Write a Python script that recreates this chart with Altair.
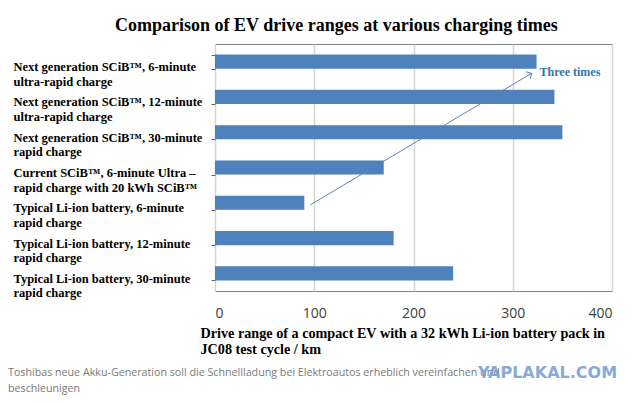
import altair as alt
import pandas as pd

# ---- data ----
labels = [
    "Next generation SCiB™, 6-minute|ultra-rapid charge",
    "Next generation SCiB™, 12-minute|ultra-rapid charge",
    "Next generation SCiB™, 30-minute|rapid charge",
    "Current SCiB™, 6-minute Ultra –|rapid charge with 20 kWh SCiB™",
    "Typical Li-ion battery, 6-minute|rapid charge",
    "Typical Li-ion battery, 12-minute|rapid charge",
    "Typical Li-ion battery, 30-minute|rapid charge",
]
ranges = [324, 342, 350, 170, 90, 180, 240]
x_ticks = [0, 100, 200, 300, 400]

# annotation arrow (x in km, y in band units counted from the top)
arrow_x = [96, 319]
arrow_y = [4.56, 0.83]
note_text = ["Three times"]
note_x = [327]
note_y = [0.8]

title_text = "Comparison of EV drive ranges at various charging times"
x_title = ["Drive range of a compact EV with a 32 kWh Li-ion battery pack in",
           "JC08 test cycle / km"]
caption = ("Toshibas neue Akku-Generation soll die Schnellladung bei Elektroautos "
           "erheblich vereinfachen und\nbeschleunigen")
watermark = "YAPLAKAL.COM"

df = pd.DataFrame({"label": labels, "range": ranges})
arrow_df = pd.DataFrame({"x": [arrow_x[0]], "x2": [arrow_x[1]],
                         "y": [arrow_y[0]], "y2": [arrow_y[1]]})
note_df = pd.DataFrame({"x": note_x, "y": note_y, "t": note_text})
cap_df = pd.DataFrame({"t": [caption]})
wm_df = pd.DataFrame({"t": [watermark]})

xscale = alt.Scale(domain=[0, 400], nice=False)
yq_scale = alt.Scale(domain=[0, 7], reverse=True, nice=False, zero=False)

bars = alt.Chart(df).mark_bar(color="#4f81bd").encode(
    x=alt.X("range:Q", scale=xscale,
            axis=alt.Axis(values=x_ticks, grid=True, gridColor="#d4d4d4", gridWidth=1.5,
                          ticks=False, tickSize=0, domain=False,
                          labelFont="Open Sans", labelFontSize=14, labelColor="#404040",
                          labelPadding=15, labelBaseline="top",
                          title=x_title, titleFont="Liberation Serif", titleFontWeight="bold",
                          titleFontSize=14.2, titleColor="black", titleAnchor="start",
                          titleAlign="left", titleBaseline="top", titleX=-15, titleY=35,
                          titleLineHeight=16)),
    y=alt.Y("label:N", sort=None,
            scale=alt.Scale(paddingInner=0.6, paddingOuter=0.3),
            axis=alt.Axis(title=None, labelExpr="split(datum.label, '|')",
                          labelAlign="left", labelBaseline="middle", labelPadding=198,
                          tickSize=4, tickBand="extent", tickColor="#666666",
                          domain=False, labelFont="Liberation Serif",
                          labelFontWeight="bold", labelFontSize=12.5,
                          labelLineHeight=14.5, labelColor="black", labelOffset=5,
                          labelLimit=400)),
)

arrow = alt.Chart(arrow_df).mark_rule(color="#5b84b6", strokeWidth=1).encode(
    x=alt.X("x:Q", scale=xscale, title=x_title),
    x2="x2:Q",
    y=alt.Y("y:Q", scale=yq_scale, axis=None),
    y2="y2:Q",
)

head = alt.Chart(arrow_df).mark_point(
    shape="M-1,1L0,0L1,1", filled=False, angle=59, size=70,
    color="#5b84b6", strokeWidth=1, opacity=1,
).encode(
    x=alt.X("x2:Q", scale=xscale, title=x_title),
    y=alt.Y("y2:Q", scale=yq_scale, axis=None),
)

note = alt.Chart(note_df).mark_text(
    align="left", baseline="middle", font="Liberation Serif", fontWeight="bold",
    fontSize=12, color="#2e75b6",
).encode(
    x=alt.X("x:Q", scale=xscale, title=x_title),
    y=alt.Y("y:Q", scale=yq_scale, axis=None),
    text="t:N",
)

cap = alt.Chart(cap_df).mark_text(
    align="left", baseline="middle", font="Open Sans", fontSize=10.7,
    color="#7a7a7a", lineBreak="\n", lineHeight=16,
).encode(x=alt.value(-207), y=alt.value(329), text="t:N")

wm = alt.Chart(wm_df).mark_text(
    align="left", baseline="middle", font="DejaVu Sans", fontWeight="bold",
    fontSize=16, color="#79a3d6", opacity=0.9,
).encode(x=alt.value(263), y=alt.value(329), text="t:N")

chart = alt.layer(bars, arrow, head, note, cap, wm).resolve_scale(
    y="independent"
).properties(
    width=397, height=247,
    title=alt.TitleParams(title_text, font="Liberation Serif", fontSize=18,
                          fontWeight="bold", color="black", anchor="start",
                          frame="group", dx=-100, dy=9, offset=12),
    autosize=alt.AutoSizeParams(type="none"),
    padding={"left": 207, "top": 36, "right": 20, "bottom": 108},
    background="white",
).configure_view(stroke="#808080", strokeWidth=1)

chart.save("out.html", embed_options={"renderer": "svg", "actions": False})
